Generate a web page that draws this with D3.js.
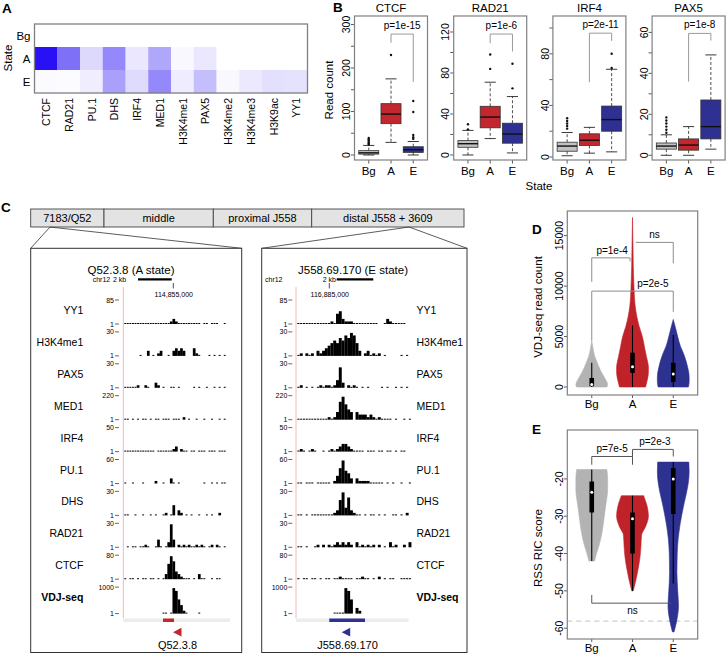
<!DOCTYPE html>
<html>
<head>
<meta charset="utf-8">
<script src="https://d3js.org/d3.v7.min.js"></script>
<style>
  body { margin: 0; background: #fff; }
</style>
</head>
<body>
<div id="fig"></div>
<script>
// ---------- panel A : heatmap ----------
var hmMarks = ["CTCF", "RAD21", "PU.1", "DHS", "IRF4", "MED1", "H3K4me1", "PAX5", "H3K4me2", "H3K4me3", "H3K9ac", "YY1"];
var hmStates = ["Bg", "A", "E"];
var hmBg = [0, 0, 0, 0, 0, 0, 0, 0, 0, 0, 0, 0];
var hmA = [1.0, 0.6, 0.16, 0.5, 0.1, 0.37, 0.03, 0.1, 0, 0, 0, 0];
var hmE = [0.02, 0.015, 0.07, 0.4, 0.15, 0.5, 0.08, 0.27, 0.03, 0.09, 0.13, 0.12];

// ---------- panel B : boxplots ----------
var bxGroups = ["Bg", "A", "E"];
var bxFactors = ["CTCF", "RAD21", "IRF4", "PAX5"];
var bxCTCF = [
  {lo: 0, q1: 2, med: 5, q3: 10, hi: 22, out: [24, 27, 30, 33, 36, 39]},
  {lo: 29, q1: 72, med: 94, q3: 118, hi: 175, out: [230]},
  {lo: 0, q1: 6, med: 12, q3: 19, hi: 31, out: [37, 41, 46, 99, 124]}
];
var bxRAD21 = [
  {lo: 0, q1: 7.5, med: 11, q3: 14, hi: 24, out: [25, 30]},
  {lo: 16, q1: 26.5, med: 37, q3: 47.5, hi: 71, out: [84, 98]},
  {lo: 2, q1: 11.5, med: 20.5, q3: 31, hi: 57, out: [65, 89]}
];
var bxIRF4 = [
  {lo: 1, q1: 4.5, med: 8.5, q3: 11.5, hi: 19, out: [22, 24, 26, 28, 30]},
  {lo: 3, q1: 9, med: 13, q3: 18, hi: 23, out: []},
  {lo: 4, q1: 20, med: 29, q3: 39.5, hi: 68, out: [69, 80]}
];
var bxPAX5 = [
  {lo: 0, q1: 3, med: 4.5, q3: 6, hi: 10, out: [11, 12.5, 14, 15.5, 17, 18.5]},
  {lo: 0, q1: 2.5, med: 5, q3: 8, hi: 14, out: []},
  {lo: 3, q1: 8, med: 14, q3: 27, hi: 49, out: []}
];
var bxDomains = [[-11.5, 319.5], [-4.9, 135.6], [-2.3, 109.3], [-2.3, 68]];
var bxTickStep = [50, 20, 20, 10];
var bxLabelStep = [100, 40, 40, 20];
var bxPvals = ["p=1e-15", "p=1e-6", "p=2e-11", "p=1e-8"];
// bracket: top value, A-leg end, E-leg end
var bxBrackets = [[278, 258, 168], [118, 109, 101], [96, 58, 90], [59.5, 36, 56]];

// ---------- panel C : tracks ----------
var trackNames = ["YY1", "H3K4me1", "PAX5", "MED1", "IRF4", "PU.1", "DHS", "RAD21", "CTCF", "VDJ-seq"];
var trackMax = ["85", "30", "30", "220", "50", "60", "30", "30", "80", "1000"];
var regions = ["7183/Q52", "middle", "proximal J558", "distal J558 + 3609"];
// ' ' = no signal, '-' = baseline, 1..9 = signal height
var tracksQ52 = [
  "------------------121--------- -- ---  -",
  "      -  2 - 12  - 23232   31-   - - - -",
  "-----1  1-  21 -  -- -     - -  -  - - -",
  "-- - - -- - -- --- --- 1 -  -  -  -  - -",
  "------------ ------12 1-- -- --- --- ---",
  "-  -   -    1  -  2- -         -  - - --",
  "--  -  -  - -  -1 -4 21 - -  -  - -  1  ",
  " - -- --1-  -3- -293 1-1-1--1-1- -1 1- - ",
  "- -- - -- -- - -2697321--- - 2--  - --  ",
  "               -- -98531-    -          "
];
var tracksJ558 = [
  "------------1-452111---------  -21-----",
  "-1 1-1 2123456576879852 12-1-1 -     - -",
  "-1 - - -1-11-1382 1-1- - -    - -  - - -",
  "-----------1-1379643 3222121-1---- -  - -",
  "-1- -1-  - -1-123321---- --- -- -- - -- ",
  "-- --- ----- 1369542 21111----- - -  -  -",
  "-- - --------12693721-- - -- - -  -- - 1",
  "-- -  -1 1 1-1212121 2-1-1-1 1 - 2-1  1 2",
  "- -- -- - -- --1---- --1-- - 1 - --  ----",
  "             ----985 21                 "
];

// ---------- panel D : VDJ-seq violins ----------
var vdjLvBg = [0, 250, 500, 1000, 1500, 2000, 2500, 3000, 3500, 4000, 4600];
var vdjDnBg = [0.95, 1.0, 0.95, 0.78, 0.6, 0.45, 0.32, 0.2, 0.12, 0.06, 0];
var vdjLvA = [0, 500, 1000, 1500, 2000, 2500, 3000, 4000, 5000, 6000, 7000, 8000, 10000, 12000, 14000, 16800];
var vdjDnA = [0.82, 0.9, 0.97, 1.0, 1.0, 0.95, 0.88, 0.75, 0.62, 0.42, 0.27, 0.17, 0.09, 0.05, 0.03, 0];
var vdjLvE = [0, 500, 1000, 1500, 2000, 2500, 3000, 3500, 4000, 5000, 6000, 6700];
var vdjDnE = [0.95, 1.0, 1.0, 0.97, 0.9, 0.82, 0.72, 0.6, 0.46, 0.28, 0.12, 0];
var vdjBox = [
  {lo: 0, q1: 80, med: 250, q3: 900, hi: 2400},
  {lo: 0, q1: 1400, med: 2000, q3: 3400, hi: 6100},
  {lo: 0, q1: 500, med: 1300, q3: 2400, hi: 5150}
];

// ---------- panel E : RSS RIC violins ----------
var ricLvBg = [-17.5, -20, -23, -26, -29, -32, -35, -38, -40, -42];
var ricDnBg = [0.95, 1.0, 1.0, 0.92, 0.82, 0.73, 0.62, 0.45, 0.3, 0.18];
var ricLvA = [-24.5, -27, -30, -33, -35, -38, -41, -44, -47, -50];
var ricDnA = [0.7, 0.9, 1.0, 0.8, 0.57, 0.53, 0.47, 0.36, 0.22, 0.05];
var ricLvE = [-15.5, -18, -21, -24, -27, -30, -33, -36, -40, -45, -50, -54, -58, -61];
var ricDnE = [0.98, 1.0, 0.95, 0.82, 0.66, 0.52, 0.4, 0.31, 0.25, 0.23, 0.28, 0.33, 0.22, 0.05];
var ricBox = [
  {lo: -42, q1: -29, med: -23.6, q3: -20.7, hi: -17.5},
  {lo: -50, q1: -40, med: -30.7, q3: -29, hi: -24.5},
  {lo: -48, q1: -29.4, med: -20, q3: -17.1, hi: -15.5}
];
var ricCutoff = -58.1;

var grpFill = {Bg: "#c2c2c2", A: "#c1272d", E: "#2e3192"};
var vioFill = {Bg: "#b3b3b3", A: "#bf2229", E: "#2d3290"};

var svg = d3.select("#fig").append("svg")
  .attr("width", 726).attr("height", 655)
  .style("font-family", '"Liberation Sans", Arial, Helvetica, sans-serif');
svg.append("rect").attr("width", 726).attr("height", 655).attr("fill", "#fff");

function txt(g, x, y, s, size, anchor) {
  return g.append("text").attr("x", x).attr("y", y).attr("font-size", size)
    .attr("text-anchor", anchor || "start").attr("fill", "#000").text(s);
}
function vtext(g, x, y, s, size, anchor) {
  return g.append("text").attr("transform", "translate(" + x + "," + y + ") rotate(-90)")
    .attr("text-anchor", anchor || "middle").attr("dy", "0.35em").attr("font-size", size).text(s);
}
function line(g, x1, y1, x2, y2, col, w) {
  return g.append("line").attr("x1", x1).attr("y1", y1).attr("x2", x2).attr("y2", y2)
    .attr("stroke", col).attr("stroke-width", w);
}

// panel letters
txt(svg, 2, 12.5, "A", 13.5).attr("font-weight", "bold");
txt(svg, 333, 12, "B", 13.5).attr("font-weight", "bold");
txt(svg, 1, 212, "C", 13.5).attr("font-weight", "bold");
txt(svg, 532, 234, "D", 13.5).attr("font-weight", "bold");
txt(svg, 532, 434, "E", 13.5).attr("font-weight", "bold");

// ================= A =================
(function () {
  var g = svg.append("g");
  var x = d3.scaleBand().domain(hmMarks).range([34.5, 307.5]);
  var y = d3.scaleBand().domain(hmStates).range([24, 93]);
  var blue = d3.interpolateRgb("#ffffff", "#2a10f4");
  var rows = {Bg: hmBg, A: hmA, E: hmE};
  hmStates.forEach(function (st) {
    g.selectAll(null).data(rows[st]).enter().append("rect")
      .attr("x", function (d, i) { return x(hmMarks[i]); })
      .attr("y", y(st))
      .attr("width", x.bandwidth() + 0.3)
      .attr("height", y.bandwidth() + 0.3)
      .attr("fill", function (d) { return blue(d); });
    txt(g, 30.5, y(st) + y.bandwidth() / 2 + 4, st, 11.5, "end");
  });
  g.append("rect").attr("x", 34.5).attr("y", 24).attr("width", 273).attr("height", 69)
    .attr("fill", "none").attr("stroke", "#808080").attr("stroke-width", 1.3);
  vtext(g, 7.5, 58, "State", 11.5);
  hmMarks.forEach(function (m) {
    vtext(g, x(m) + x.bandwidth() / 2 + 0.5, 98, m, 10.5, "end");
  });
})();

// ================= B =================
var bxStats = [bxCTCF, bxRAD21, bxIRF4, bxPAX5];
bxFactors.forEach(function (name, i) {
  var g = svg.append("g");
  var left = 354.5 + 99.2 * i, right = left + 73, top = 16, bot = 160;
  var x = d3.scaleLinear().domain([0.36, 3.64]).range([left, right]);
  var y = d3.scaleLinear().domain(bxDomains[i]).range([bot, top]);
  txt(g, (left + right) / 2, 12, name, 11.5, "middle");
  d3.range(0, bxDomains[i][1], bxTickStep[i]).forEach(function (t) {
    line(g, left - 3.5, y(t), left, y(t), "#333", 0.8);
    if (t % bxLabelStep[i] === 0) vtext(g, left - 8, y(t), String(t), 10.5);
  });
  bxGroups.forEach(function (gr, k) {
    var s = bxStats[i][k];
    var cx = x(k + 1);
    var hw = x(k + 1 + 0.45) - cx, cw = x(k + 1 + 0.25) - cx;
    line(g, cx, y(s.q3), cx, y(s.hi), "#222", 0.8).attr("stroke-dasharray", "3,2");
    line(g, cx, y(s.q1), cx, y(s.lo), "#222", 0.8).attr("stroke-dasharray", "3,2");
    line(g, cx - cw, y(s.hi), cx + cw, y(s.hi), "#222", 0.9);
    line(g, cx - cw, y(s.lo), cx + cw, y(s.lo), "#222", 0.9);
    g.append("rect").attr("x", cx - hw).attr("y", y(s.q3)).attr("width", 2 * hw)
      .attr("height", y(s.q1) - y(s.q3)).attr("fill", grpFill[gr]).attr("stroke", "#333").attr("stroke-width", 0.8);
    line(g, cx - hw, y(s.med), cx + hw, y(s.med), "#111", 1.4);
    g.selectAll(null).data(s.out).enter().append("circle")
      .attr("cx", cx).attr("cy", function (d) { return y(d); }).attr("r", 1.2).attr("fill", "#111");
    line(g, cx, bot, cx, bot + 3.5, "#333", 0.8);
    txt(g, cx, 175, gr, 11.5, "middle");
  });
  var br = bxBrackets[i];
  var xa = x(2), xe = x(3);
  g.append("path").attr("d", "M" + xa + "," + y(br[1]) + "V" + y(br[0]) + "H" + xe + "V" + y(br[2]))
    .attr("fill", "none").attr("stroke", "#999").attr("stroke-width", 1);
  txt(g, (xa + xe) / 2, y(br[0]) - 5, bxPvals[i], 10, "middle");
  g.append("rect").attr("x", left).attr("y", top).attr("width", right - left).attr("height", bot - top)
    .attr("fill", "none").attr("stroke", "#808080").attr("stroke-width", 1.2);
});
vtext(svg, 329, 90, "Read count", 11.5);
txt(svg, 539, 190, "State", 11.5, "middle");

// ================= C =================
(function () {
  var g = svg.append("g");
  var segs = [30.7, 104, 213.3, 311.7, 464];
  var bt = 209, bb = 227;
  regions.forEach(function (r, i) {
    g.append("rect").attr("x", segs[i]).attr("y", bt).attr("width", segs[i + 1] - segs[i]).attr("height", bb - bt)
      .attr("fill", "#e3e3e3").attr("stroke", "#444").attr("stroke-width", 0.9);
    txt(g, (segs[i] + segs[i + 1]) / 2, bt + 13, r, 11, "middle");
  });
  var pTop = 248.3, pBot = 652.5;
  var panels = [
    {l: 30.7, r: 241.7, from: 50, title: "Q52.3.8 (A state)", tx: 131, tracks: tracksQ52,
     pink: 123.3, d0: 124, d1: 226, labX: 83.3, labAnchor: "end", scaleX: 120,
     chrX: 92.7, kbX: 113, bar: [138, 171.7], tickX: 173.3, coord: "114,855,000",
     gene: [163, 174], tri: 173, gname: "Q52.3.8", gx: 177.5, col: "#c1272d", band: [123.3, 230]},
    {l: 261.7, r: 467, from: 409, title: "J558.69.170 (E state)", tx: 353, tracks: tracksJ558,
     pink: 296, d0: 297, d1: 408.5, labX: 416.5, labAnchor: "start", scaleX: 293.3,
     chrX: 265, kbX: 322.7, bar: [336.7, 373.3], tickX: 329.3, coord: "116,885,000",
     gene: [329.3, 365], tri: 341.7, gname: "J558.69.170", gx: 347.5, col: "#2e3192", band: [296, 408.5]}
  ];
  panels.forEach(function (p) {
    line(g, p.from, bb, p.l, pTop, "#333", 0.8);
    line(g, p.from, bb, p.r, pTop, "#333", 0.8);
    g.append("rect").attr("x", p.l).attr("y", pTop).attr("width", p.r - p.l).attr("height", pBot - pTop)
      .attr("fill", "#fff").attr("stroke", "#333").attr("stroke-width", 1);
    txt(g, p.tx, 274, p.title, 11.5, "middle");
    txt(g, p.chrX, 281.5, "chr12", 7);
    txt(g, p.kbX, 281.5, "2 kb", 7);
    line(g, p.bar[0], 279.3, p.bar[1], 279.3, "#000", 2.2);
    line(g, p.tickX, 283, p.tickX, 288.5, "#000", 0.7);
    txt(g, p.tickX + 0.5, 296.5, p.coord, 7, "middle");
    line(g, p.pink, 287, p.pink, 618, "#f2b9b9", 1);
    g.append("rect").attr("x", p.band[0]).attr("y", 618.5).attr("width", p.band[1] - p.band[0])
      .attr("height", 3.5).attr("fill", "#ececec");
    g.append("rect").attr("x", p.gene[0]).attr("y", 618.5).attr("width", p.gene[1] - p.gene[0])
      .attr("height", 3.5).attr("fill", p.col);
    g.append("path").attr("d", "M" + p.tri + ",632.2L" + (p.tri + 8.5) + ",627.8L" + (p.tri + 8.5) + ",636.6Z")
      .attr("fill", p.col);
    txt(g, p.gx, 649, p.gname, 11, "middle");

    var xs = d3.scaleLinear().domain([0, 40]).range([p.d0, p.d1]);
    trackNames.forEach(function (name, i) {
      var top = 300 + 31.9 * i;
      var base = top + (i === 9 ? 26.5 : 24);
      var ys = d3.scaleLinear().domain([0, 9]).range([base, top + 1]);
      var vals = p.tracks[i].split("").map(function (c) { return c === " " ? 0 : (c === "-" ? 0.3 : +c); });
      vals.forEach(function (v, k) {
        if (v <= 0) return;
        var w = xs(k + 1) - xs(k);
        var h = Math.max(1, base - ys(v));
        g.append("rect").attr("x", xs(k) + (v < 1 ? w * 0.12 : 0)).attr("y", base - h)
          .attr("width", v < 1 ? w * 0.76 : w + 0.15).attr("height", h).attr("fill", "#000");
      });
      var tl = txt(g, p.labX, top + 14, name, 10.5, p.labAnchor);
      if (name === "VDJ-seq") tl.attr("font-weight", "bold");
      txt(g, p.scaleX - 6, top + 2.5, trackMax[i], 7, "end");
      line(g, p.scaleX - 5, top, p.scaleX - 1, top, "#000", 0.6);
      txt(g, p.scaleX - 6, base + 2.5, "1", 7, "end");
      line(g, p.scaleX - 5, base, p.scaleX - 1, base, "#000", 0.6);
    });
  });
})();

// ================= D & E : violins =================
function violinPanel(o) {
  var g = svg.append("g");
  var x = d3.scaleLinear().domain([0.4, 3.6]).range([567.3, 697.7]);
  var y = d3.scaleLinear().domain(o.yDom).range([o.bot, o.top]);
  var wu = d3.scaleLinear().domain([0, 1]).range([0, 0.39]);
  if (o.cutoff !== undefined) {
    line(g, 567.3, y(o.cutoff), 697.7, y(o.cutoff), "#c9d3c9", 1.3).attr("stroke-dasharray", "5,4");
  }
  ["Bg", "A", "E"].forEach(function (gr, k) {
    var c = k + 1;
    var pts = o.lv[k].map(function (v, j) { return {v: v, d: o.dn[k][j]}; });
    var area = d3.area()
      .y(function (d) { return y(d.v); })
      .x0(function (d) { return x(c - wu(d.d)); })
      .x1(function (d) { return x(c + wu(d.d)); })
      .curve(d3.curveMonotoneY);
    var sorted = pts.slice().sort(function (a, b) { return a.v - b.v; });
    g.append("path").attr("d", area(sorted)).attr("fill", vioFill[gr]).attr("stroke", vioFill[gr]).attr("stroke-width", 0.6);
    var b = o.box[k];
    var cx = x(c);
    line(g, cx, y(b.lo), cx, y(b.hi), "#000", 1.1);
    g.append("rect").attr("x", cx - 2.3).attr("y", y(b.q3)).attr("width", 4.6).attr("height", y(b.q1) - y(b.q3)).attr("fill", "#000");
    g.append("circle").attr("cx", cx).attr("cy", y(b.med)).attr("r", 1.5).attr("fill", "#fff");
    line(g, cx, o.bot, cx, o.bot + 3, "#333", 0.8);
    txt(g, cx, o.bot + 13, gr, 11.5, "middle");
  });
  o.ticks.forEach(function (t) {
    line(g, 564, y(t), 567.3, y(t), "#333", 0.8);
    vtext(g, 559.5, y(t), String(t), 10.5);
  });
  o.brackets.forEach(function (b) {
    var d = "M" + x(b.x1) + "," + y(b.l) + "V" + y(b.top) + "H" + x(b.x2);
    if (b.r !== null) d += "V" + y(b.r);
    g.append("path").attr("d", d).attr("fill", "none").attr("stroke", o.brCol).attr("stroke-width", 1);
    txt(g, x(b.tx), y(b.top) + b.dy, b.t, 10, "middle");
  });
  g.append("rect").attr("x", 567.3).attr("y", o.top).attr("width", 130.4).attr("height", o.bot - o.top)
    .attr("fill", "none").attr("stroke", "#808080").attr("stroke-width", 1.2);
  vtext(g, 537.5, o.labY, o.label, 11.5);
}

violinPanel({
  top: 211, bot: 395, yDom: [-790, 17440], ticks: [0, 5000, 10000, 15000],
  lv: [vdjLvBg, vdjLvA, vdjLvE], dn: [vdjDnBg, vdjDnA, vdjDnE], box: vdjBox,
  label: "VDJ-seq read count", labY: 307, brCol: "#8c8c8c",
  brackets: [
    {x1: 1, x2: 1.94, top: 12800, l: 10430, r: 12450, t: "p=1e-4", tx: 1.5, dy: -4},
    {x1: 2.08, x2: 3, top: 14330, l: 14330, r: 12250, t: "ns", tx: 2.54, dy: -4},
    {x1: 1, x2: 3, top: 9500, l: 4600, r: 7450, t: "p=2e-5", tx: 2.5, dy: -4}
  ]
});
violinPanel({
  top: 430, bot: 639, yDom: [-62.9, -6.9], ticks: [-20, -30, -40, -50, -60],
  lv: [ricLvBg, ricLvA, ricLvE], dn: [ricDnBg, ricDnA, ricDnE], box: ricBox, cutoff: ricCutoff,
  label: "RSS RIC score", labY: 548, brCol: "#555",
  brackets: [
    {x1: 1, x2: 2, top: -14, l: -16.2, r: -16.2, t: "p=7e-5", tx: 1.5, dy: -4},
    {x1: 2, x2: 3, top: -12.1, l: -14, r: -14, t: "p=2e-3", tx: 2.55, dy: -4},
    {x1: 1, x2: 2.95, top: -53.3, l: -51.1, r: null, t: "ns", tx: 2, dy: 11}
  ]
});
</script>
</body>
</html>
